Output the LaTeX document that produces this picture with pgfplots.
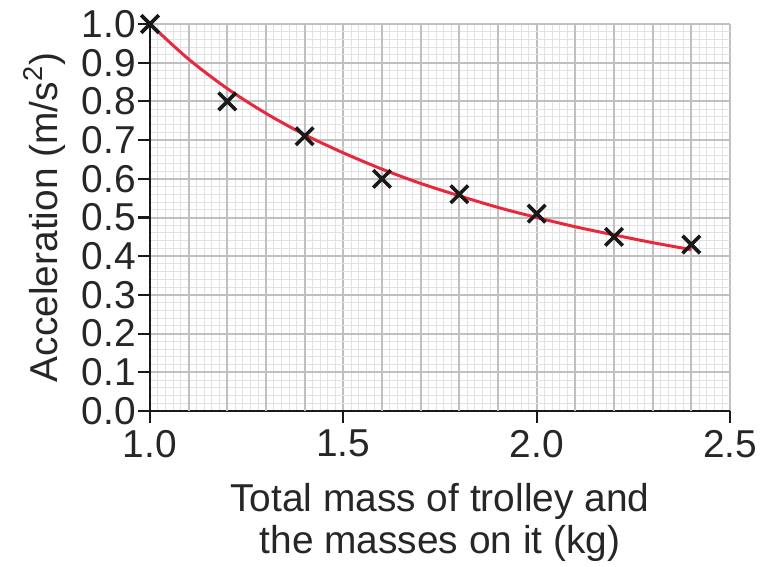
\documentclass[border=0pt]{standalone}
\usepackage{pgfplots}
\pgfplotsset{compat=1.18}
\usepackage{fontspec}
\setmainfont{Liberation Sans}
\definecolor{majgrid}{RGB}{192,192,192}
\definecolor{mingrid}{RGB}{226,226,226}
\definecolor{curvered}{RGB}{232,40,60}
\begin{document}
\begin{tikzpicture}
\begin{axis}[
  name=main,
  scale only axis,
  width=290bp, height=193.5bp,
  xmin=1, xmax=2.5, ymin=0, ymax=1,
  enlargelimits=false,
  axis x line*=bottom, axis y line*=left,
  axis line style={-, black!90, line width=1.2bp},
  xtick={1,1.5,2,2.5},
  ytick={0,0.1,...,1.01},
  extra x ticks={1.1,1.2,1.3,1.4,1.6,1.7,1.8,1.9,2.1,2.2,2.3,2.4},
  extra x tick labels={},
  extra x tick style={major tick length=0pt, grid=major},
  minor xtick={1,1.02,...,2.51},
  minor y tick num=4,
  minor tick length=0pt,
  major tick length=6bp,
  tick align=outside,
  tick style={black!90, line width=1.1bp},
  grid=both,
  major grid style={majgrid, line width=1bp},
  minor grid style={mingrid, line width=0.5bp},
  xticklabel style={/pgf/number format/fixed, /pgf/number format/fixed zerofill, /pgf/number format/precision=1},
  yticklabel style={/pgf/number format/fixed, /pgf/number format/fixed zerofill, /pgf/number format/precision=1},
  /pgf/number format/assume math mode=true,
  ticklabel style={font=\fontsize{19.5}{21}\selectfont, text=black!85},
  yticklabel style={xshift=2.5bp},
  label style={font=\fontsize{19.5}{21}\selectfont, text=black!85},
  xlabel={Total mass of trolley and\\the masses on it (kg)},
  xlabel style={align=center},
  ylabel={Acceleration (m/s\textsuperscript{2})},
  ylabel shift=1.5bp,
  clip=false,
]
\addplot[curvered, line width=1.5bp, smooth] coordinates {
(1.0,1.000) (1.1,0.909) (1.2,0.833) (1.3,0.769) (1.4,0.714) (1.5,0.667)
(1.6,0.625) (1.7,0.588) (1.8,0.556) (1.9,0.526) (2.0,0.500) (2.1,0.476)
(2.2,0.455) (2.3,0.435) (2.4,0.417)
};
\addplot[only marks, mark=x, mark size=6.2bp, black!90, line width=1.8bp] coordinates {
(1.0,1.00) (1.2,0.80) (1.4,0.71) (1.6,0.60) (1.8,0.56) (2.0,0.51) (2.2,0.45) (2.4,0.43)
};
\end{axis}
\pgfresetboundingbox
\path[use as bounding box] ([shift={(-75bp,-78bp)}]main.south west) rectangle ([shift={(15bp,12bp)}]main.north east);
\end{tikzpicture}
\end{document}
